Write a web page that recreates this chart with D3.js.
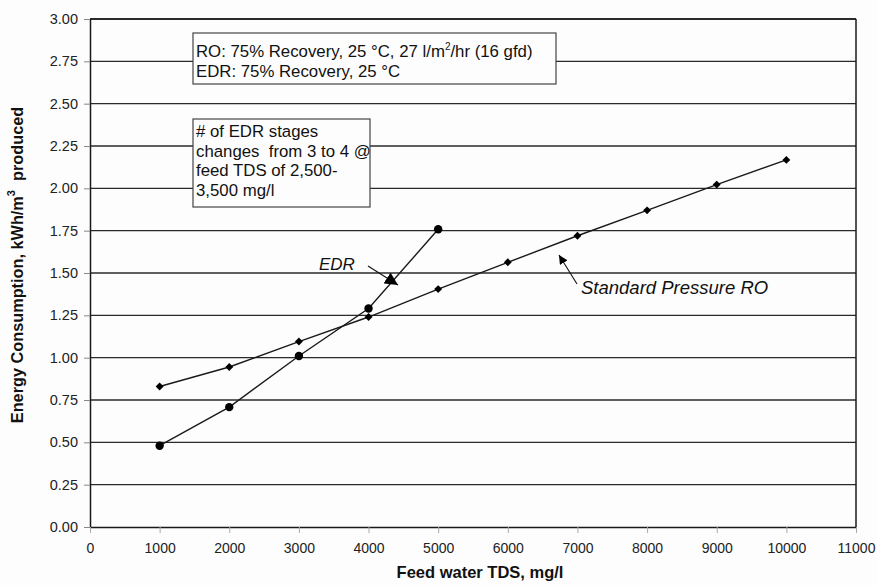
<!DOCTYPE html>
<html><head><meta charset="utf-8">
<script src="https://cdn.jsdelivr.net/npm/d3@7"></script>
<style>
html,body{margin:0;padding:0;background:#fdfdfd;}
svg{display:block;font-family:Arial,"Liberation Sans",sans-serif;}
text{white-space:pre;}
</style></head>
<body>
<svg id="chart" width="877" height="585"></svg>
<script>
const tdsRO = [1000,2000,3000,4000,5000,6000,7000,8000,9000,10000];
const energyRO = [0.83,0.945,1.095,1.24,1.405,1.563,1.72,1.87,2.022,2.168];
const tdsEDR = [1000,2000,3000,4000,5000];
const energyEDR = [0.48,0.708,1.01,1.29,1.758];
const xTicks = [0,1000,2000,3000,4000,5000,6000,7000,8000,9000,10000,11000];
const yTicks = [0,0.25,0.5,0.75,1,1.25,1.5,1.75,2,2.25,2.5,2.75,3];
const xTitle = "Feed water TDS, mg/l";
const box1Lines = ["RO: 75% Recovery, 25 °C, 27 l/m|2|/hr (16 gfd)", "EDR: 75% Recovery, 25 °C"];
const box2Lines = ["# of EDR stages", "changes  from 3 to 4 @", "feed TDS of 2,500-", "3,500 mg/l"];

const svg = d3.select("#chart");
const L = 90, R = 856, T = 19, B = 527;
const x = d3.scaleLinear().domain([0,11000]).range([L,R]);
const y = d3.scaleLinear().domain([0,3]).range([B,T]);
const ink = "#1a1a1a";

// gridlines
svg.append("g").selectAll("line").data(yTicks.filter(d=>d>0)).join("line")
  .attr("x1",L).attr("x2",R).attr("y1",d=>y(d)).attr("y2",d=>y(d))
  .attr("stroke","#2a2a2a").attr("stroke-width",1.3);

// y axis
const yAxis = svg.append("g").attr("transform",`translate(${L},0)`)
  .call(d3.axisLeft(y).tickValues(yTicks).tickFormat(d3.format(".2f")).tickSize(6).tickSizeOuter(0));
yAxis.select(".domain").attr("stroke",ink).attr("stroke-width",1.5);
yAxis.selectAll(".tick line").attr("stroke","#888");
yAxis.selectAll(".tick text").attr("font-size",14.5).attr("fill","#222").attr("x",-12)
  .attr("font-family","Arial, Liberation Sans, sans-serif");

// x axis
const xAxis = svg.append("g").attr("transform",`translate(0,${B})`)
  .call(d3.axisBottom(x).tickValues(xTicks).tickFormat(d3.format("d")).tickSize(6).tickSizeOuter(0));
xAxis.select(".domain").attr("stroke",ink).attr("stroke-width",1.5);
xAxis.selectAll(".tick line").attr("stroke","#aaa");
xAxis.selectAll(".tick text").attr("font-size",14).attr("fill","#222").attr("y",16)
  .attr("font-family","Arial, Liberation Sans, sans-serif");

// right and top border
svg.append("line").attr("x1",R).attr("x2",R).attr("y1",T).attr("y2",B).attr("stroke",ink).attr("stroke-width",1.5);
svg.append("line").attr("x1",L).attr("x2",R).attr("y1",T).attr("y2",T).attr("stroke",ink).attr("stroke-width",1.3);

// text boxes
function textBox(x0,y0,w,h,lines,base,step){
  const g = svg.append("g");
  g.append("rect").attr("x",x0).attr("y",y0).attr("width",w).attr("height",h)
    .attr("fill","#fdfdfd").attr("stroke","#444").attr("stroke-width",1.2);
  lines.forEach((ln,i)=>{
    const t = g.append("text").attr("x",x0+3).attr("y",base+i*step).attr("font-size",16.8).attr("fill","#111");
    const parts = ln.split("|");
    parts.forEach((p,j)=>{
      if(j%2===1){ t.append("tspan").attr("font-size",10).attr("dy",-7).text(p); }
      else { const s=t.append("tspan").text(p); if(j>0) s.attr("dy",7); }
    });
  });
}
textBox(193,33,363,51,box1Lines,57,19.5);
textBox(193,119,177,88,box2Lines,137,19.5);

// lines
const line = d3.line().x(d=>x(d[0])).y(d=>y(d[1]));
const ro = tdsRO.map((t,i)=>[t,energyRO[i]]);
const edr = tdsEDR.map((t,i)=>[t,energyEDR[i]]);
svg.append("path").datum(ro).attr("d",line).attr("fill","none").attr("stroke",ink).attr("stroke-width",1.4);
svg.append("path").datum(edr).attr("d",line).attr("fill","none").attr("stroke",ink).attr("stroke-width",1.4);
svg.append("g").selectAll("path").data(ro).join("path")
  .attr("d",d3.symbol().type(d3.symbolDiamond2).size(40))
  .attr("transform",d=>`translate(${x(d[0])},${y(d[1])})`).attr("fill","#000");
svg.append("g").selectAll("circle").data(edr).join("circle")
  .attr("cx",d=>x(d[0])).attr("cy",d=>y(d[1])).attr("r",4.2).attr("fill","#000");

// annotations
const defs = svg.append("defs");
defs.append("marker").attr("id","ah").attr("viewBox","0 0 10 10")
  .attr("refX",10).attr("refY",5).attr("markerWidth",9).attr("markerHeight",9)
  .attr("markerUnits","userSpaceOnUse").attr("orient","auto")
  .append("path").attr("d","M0,0L10,5L0,10z").attr("fill","#000");
defs.append("marker").attr("id","ah2").attr("viewBox","0 0 10 10")
  .attr("refX",10).attr("refY",5).attr("markerWidth",13).attr("markerHeight",13)
  .attr("markerUnits","userSpaceOnUse").attr("orient","auto")
  .append("path").attr("d","M0,0L10,5L0,10z").attr("fill","#000");

svg.append("text").attr("x",319).attr("y",270).attr("font-size",17).attr("font-style","italic").attr("fill","#111").text("EDR");
svg.append("line").attr("x1",368).attr("y1",266).attr("x2",398).attr("y2",285)
  .attr("stroke","#111").attr("stroke-width",1.1).attr("marker-end","url(#ah2)");

svg.append("text").attr("x",581).attr("y",294).attr("font-size",18.5).attr("font-style","italic").attr("fill","#111").text("Standard Pressure RO");
svg.append("line").attr("x1",577).attr("y1",284).attr("x2",559).attr("y2",255)
  .attr("stroke","#111").attr("stroke-width",1.1).attr("marker-end","url(#ah)");

// axis titles
svg.append("text").attr("x",480).attr("y",578).attr("text-anchor","middle")
  .attr("font-size",16.5).attr("font-weight","bold").attr("fill","#111").text(xTitle);
const yt = svg.append("text").attr("transform","translate(23,265) rotate(-90)").attr("text-anchor","middle")
  .attr("font-size",16.3).attr("font-weight","bold").attr("fill","#111");
yt.append("tspan").text("Energy Consumption, kWh/m");
yt.append("tspan").attr("font-size",11).attr("dy",-8).text("3");
yt.append("tspan").attr("dy",8).text("  produced");
</script>
</body></html>
